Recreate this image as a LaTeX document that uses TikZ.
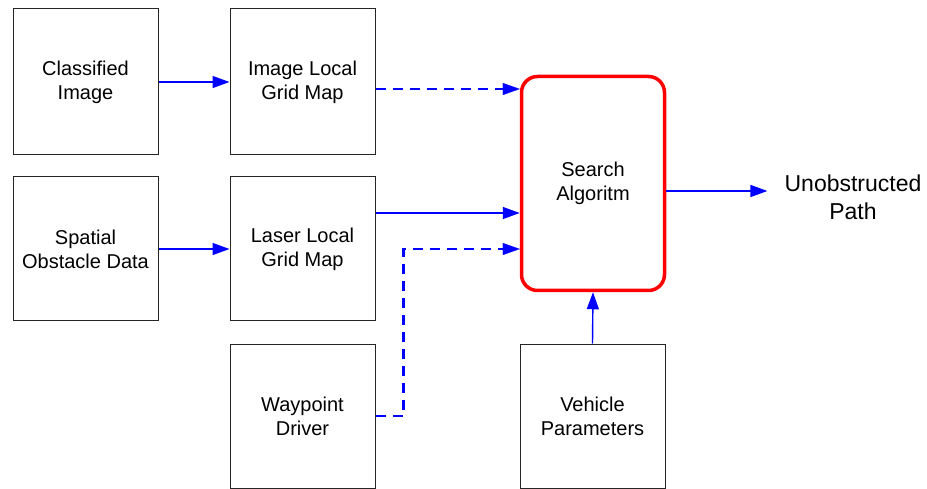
\documentclass[tikz,border=0pt]{standalone}
\usepackage{fontspec}
\setmainfont{Liberation Sans}
\usetikzlibrary{arrows.meta}
\begin{document}
\begin{tikzpicture}[x=1pt,y=-1pt,
  box/.style={draw=black!85,line width=1pt,minimum width=145pt,minimum height=145pt,inner sep=0pt,align=center,font=\fontsize{20}{24}\selectfont},
  srchbox/.style={draw=red,line width=3.5pt,rounded corners=16pt,minimum width=143pt,minimum height=214pt,inner sep=0pt,align=center,font=\fontsize{20}{24}\selectfont},
  solidarrow/.style={draw=blue,line width=1.4pt,-{Triangle[length=17pt,width=12pt]}},
  dasharrow/.style={draw=blue,line width=2.8pt,dash pattern=on 10pt off 7pt,-{Triangle[length=17pt,width=12pt,line width=0.1pt]}}
]
\useasboundingbox (0,0) rectangle (927,489);
\node[box,minimum height=146pt] (cls) at (85.5,82) {Classified\\Image};
\node[box,minimum height=146pt] (img) at (302.5,82) {Image Local\\Grid Map};
\node[box,minimum height=144pt] (spa) at (85.5,249) {Spatial\\Obstacle Data};
\node[box,minimum height=144pt] (las) at (302.5,249) {Laser Local\\Grid Map};
\node[box,minimum height=144pt] (way) at (302.5,416) {Waypoint\\Driver};
\node[box,minimum height=144pt] (veh) at (592.5,416) {Vehicle\\Parameters};
\node[srchbox] (srch) at (593,183.5) {Search\\Algoritm};
\node[align=center,inner sep=17pt,font=\fontsize{23}{28}\selectfont] (out) at (853,197) {Unobstructed\\Path};

\coordinate (a1) at ([yshift=-7pt]img.east);
\coordinate (a2) at ([yshift=36pt]las.east);
\coordinate (a3) at ([yshift=-7.5pt]srch.east);

\draw[solidarrow] (cls) -- (img);
\draw[solidarrow] (spa) -- (las);
\draw[dasharrow] (a1) -- (a1 -| srch.west);
\draw[solidarrow] (a2) -- (a2 -| srch.west);
\draw[dasharrow] (way.east) -- ++(28,0) |- (las.east -| srch.west);
\draw[solidarrow] (veh.north) -- (srch.south);
\draw[solidarrow] (a3) -- (a3 -| out.west);
\end{tikzpicture}
\end{document}
